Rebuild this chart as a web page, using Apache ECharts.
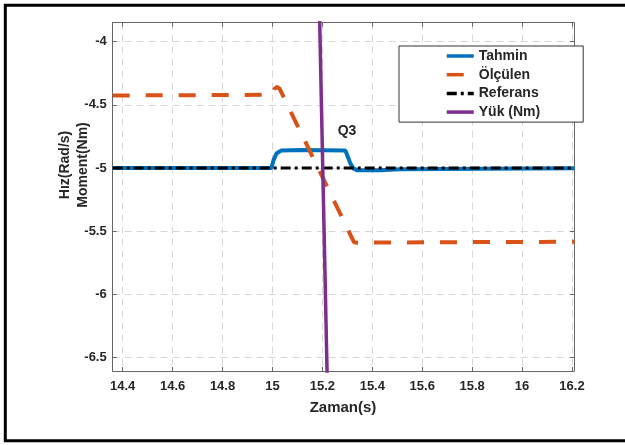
<!DOCTYPE html>
<html><head><meta charset="utf-8">
<script src="https://cdn.jsdelivr.net/npm/echarts@6/dist/echarts.min.js"></script>
<style>html,body{margin:0;padding:0;background:#fff}#c{width:625px;height:445px}</style>
</head><body><div id="c"></div>
<script>
const xTicks = [14.4, 14.6, 14.8, 15, 15.2, 15.4, 15.6, 15.8, 16, 16.2];
const yTicks = [-6.5, -6, -5.5, -5, -4.5, -4];

const tahminX = [14.36, 14.996, 15.004, 15.016, 15.036, 15.112, 15.292, 15.3, 15.312, 15.324, 15.34, 15.432, 15.512, 16.21];
const tahminY = [-5.0, -5.0, -4.939, -4.884, -4.860, -4.856, -4.860, -4.90, -4.963, -5.002, -5.018, -5.018, -5.01, -5.002];

const olculenX = [14.36, 15.0, 15.008, 15.018, 15.028, 15.327, 15.34, 15.8, 16.21];
const olculenY = [-4.426, -4.42, -4.374, -4.358, -4.37, -5.587, -5.59, -5.585, -5.583];

const referansX = [14.36, 16.21];
const referansY = [-5.0, -5.0];

const yukX = [15.1855, 15.2229];
const yukY = [-3.5, -7.0];

const zip = (a, b) => a.map((v, i) => [v, b[i]]);
const tickColor = '#262626';
const gridDash = { color: '#d6d6d6', width: 1, type: [7, 5] };

const chart = echarts.init(document.getElementById('c'), null, { renderer: 'canvas' });
const font = '"Liberation Sans", Arial, sans-serif';

chart.setOption({
  animation: false,
  backgroundColor: '#fff',
  grid: { left: 112.7, top: 22.7, right: 51, bottom: 74, show: false },
  xAxis: [{
    type: 'value', min: 14.36, max: 16.208, position: 'bottom',
    axisLine: { show: true, onZero: false, lineStyle: { color: '#666', width: 1 } },
    axisTick: { show: true, inside: true, length: 4, customValues: xTicks, lineStyle: { color: '#666' } },
    axisLabel: { customValues: xTicks, margin: 9, color: tickColor, fontWeight: 'bold', fontSize: 13, fontFamily: font,
      formatter: v => String(Math.round(v * 10) / 10) },
    splitLine: { show: true, lineStyle: gridDash }
  }, {
    type: 'value', min: 14.36, max: 16.208, position: 'top',
    axisLine: { show: true, onZero: false, lineStyle: { color: '#666', width: 1 } },
    axisTick: { show: true, inside: true, length: 4, customValues: xTicks, lineStyle: { color: '#666' } },
    axisLabel: { show: false }, splitLine: { show: false }
  }],
  yAxis: [{
    type: 'value', min: -6.605, max: -3.85, position: 'left',
    axisLine: { show: true, onZero: false, lineStyle: { color: '#666', width: 1 } },
    axisTick: { show: true, inside: true, length: 4, customValues: yTicks, lineStyle: { color: '#666' } },
    axisLabel: { customValues: yTicks, margin: 6, color: tickColor, fontWeight: 'bold', fontSize: 13, fontFamily: font },
    splitLine: { show: true, lineStyle: gridDash }
  }, {
    type: 'value', min: -6.605, max: -3.85, position: 'right',
    axisLine: { show: true, onZero: false, lineStyle: { color: '#666', width: 1 } },
    axisTick: { show: true, inside: true, length: 4, customValues: yTicks, lineStyle: { color: '#666' } },
    axisLabel: { show: false }, splitLine: { show: false }
  }],
  legend: {
    left: 399, top: 46, orient: 'vertical',
    backgroundColor: '#fff', borderColor: '#333', borderWidth: 1,
    padding: [3, 43, 3, 46], itemGap: 4.7, itemWidth: 27, itemHeight: 14,
    itemStyle: { opacity: 0 },
    lineStyle: { width: 3.5 },
    textStyle: { fontSize: 14, fontWeight: 'bold', color: tickColor, fontFamily: font, lineHeight: 14 },
    data: ['Tahmin', 'Ölçülen', 'Referans', 'Yük (Nm)']
  },
  series: [
    { name: 'Tahmin', type: 'line', data: zip(tahminX, tahminY), showSymbol: false, symbol: 'none',
      lineStyle: { color: '#0072BD', width: 4 }, itemStyle: { color: '#0072BD' }, z: 2 },
    { name: 'Ölçülen', type: 'line', data: zip(olculenX, olculenY), showSymbol: false, symbol: 'none',
      lineStyle: { color: '#D95319', width: 4, type: [17, 16] }, itemStyle: { color: '#D95319' }, z: 3 },
    { name: 'Referans', type: 'line', data: zip(referansX, referansY), showSymbol: false, symbol: 'none',
      lineStyle: { color: '#000', width: 3, type: [10, 4, 3, 4] }, itemStyle: { color: '#000' }, z: 4 },
    { name: 'Yük (Nm)', type: 'line', data: zip(yukX, yukY), showSymbol: false, symbol: 'none', clip: true,
      lineStyle: { color: '#7E2F8E', width: 3.5 }, itemStyle: { color: '#7E2F8E' }, z: 5 }
  ],
  graphic: [
    { type: 'rect', shape: { x: 5.3, y: 5.3, width: 640, height: 435.5 }, style: { fill: null, stroke: '#000', lineWidth: 3 }, z: 100 },
    { type: 'text', x: 65, y: 165, rotation: Math.PI / 2, style: { text: 'Hız(Rad/s)', fill: tickColor, font: 'bold 14px ' + font, textAlign: 'center', textVerticalAlign: 'middle' } },
    { type: 'text', x: 83, y: 165, rotation: Math.PI / 2, style: { text: 'Moment(Nm)', fill: tickColor, font: 'bold 14px ' + font, textAlign: 'center', textVerticalAlign: 'middle' } },
    { type: 'text', x: 343, y: 408, style: { text: 'Zaman(s)', fill: tickColor, font: 'bold 15px ' + font, textAlign: 'center', textVerticalAlign: 'middle' } },
    { type: 'text', x: 347, y: 131, style: { text: 'Q3', fill: tickColor, font: 'bold 14px ' + font, textAlign: 'center', textVerticalAlign: 'middle' }, z: 50 }
  ]
});
</script></body></html>
